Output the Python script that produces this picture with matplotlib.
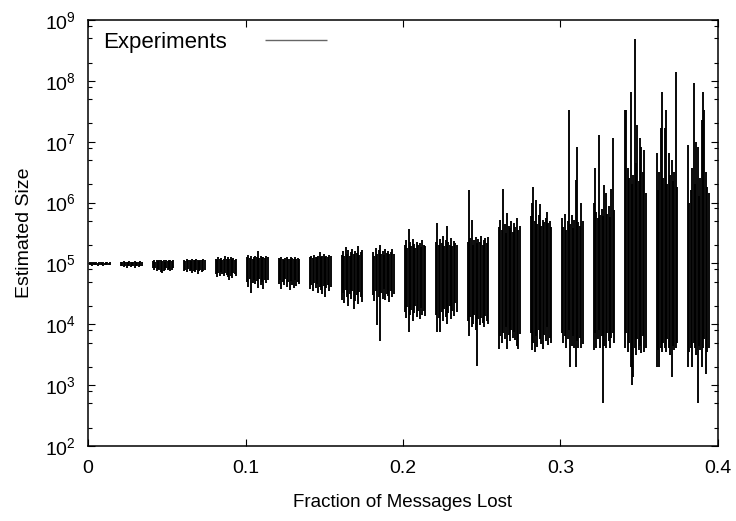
import numpy as np
import matplotlib
matplotlib.use('Agg')
import matplotlib.pyplot as plt
from matplotlib.ticker import LogLocator, NullFormatter

plt.rcParams['font.family'] = ['Liberation Sans', 'DejaVu Sans']
plt.rcParams['mathtext.fontset'] = 'custom'
plt.rcParams['mathtext.rm'] = 'Liberation Sans'

# nominal loss fraction of each experiment group
groups = [0.00, 0.02, 0.04, 0.06, 0.08, 0.10, 0.12, 0.14, 0.16, 0.18,
          0.20, 0.22, 0.24, 0.26, 0.28, 0.30, 0.32, 0.34, 0.36, 0.38]

# log10 of the upper end of each experiment's error bar, one list per group
hi_exp = [
    [5.02, 5.01, 5.02, 5.02, 5.01, 5.02, 5.01, 5.02, 5.02, 5.01, 5.02, 5.01, 5.02, 5.02, 5.01, 5.02],
    [5.03, 5.02, 5.04, 5.03, 5.02, 5.03, 5.04, 5.03, 5.02, 5.03, 5.04, 5.03, 5.02, 5.03, 5.04, 5.03],
    [5.04, 5.05, 5.03, 5.05, 5.04, 5.06, 5.05, 5.04, 5.05, 5.03, 5.05, 5.04, 5.05, 5.06, 5.04, 5.05],
    [5.06, 5.04, 5.07, 5.05, 5.06, 5.04, 5.07, 5.06, 5.05, 5.07, 5.06, 5.04, 5.06, 5.05, 5.07, 5.05],
    [5.08, 5.06, 5.10, 5.07, 5.09, 5.06, 5.08, 5.12, 5.07, 5.10, 5.08, 5.11, 5.07, 5.09, 5.06, 5.08],
    [5.10, 5.14, 5.09, 5.12, 5.08, 5.11, 5.13, 5.10, 5.20, 5.09, 5.12, 5.10, 5.11, 5.09, 5.12, 5.10],
    [5.09, 5.07, 5.10, 5.08, 5.06, 5.09, 5.11, 5.08, 5.07, 5.10, 5.09, 5.08, 5.10, 5.07, 5.09, 5.08],
    [5.10, 5.12, 5.09, 5.14, 5.11, 5.10, 5.13, 5.19, 5.11, 5.12, 5.15, 5.10, 5.13, 5.11, 5.14, 5.12],
    [5.14, 5.20, 5.12, 5.27, 5.16, 5.22, 5.13, 5.18, 5.24, 5.15, 5.21, 5.17, 5.29, 5.14, 5.19, 5.22],
    [5.18, 5.13, 5.26, 5.16, 5.22, 5.30, 5.15, 5.20, 5.14, 5.24, 5.17, 5.21, 5.15, 5.19, 5.23, 5.16],
    [5.30, 5.38, 5.25, 5.56, 5.35, 5.28, 5.40, 5.32, 5.26, 5.36, 5.30, 5.34, 5.27, 5.38, 5.31, 5.29],
    [5.35, 5.66, 5.30, 5.40, 5.33, 5.45, 5.28, 5.38, 5.61, 5.36, 5.31, 5.42, 5.29, 5.37, 5.33, 5.30],
    [5.35, 6.21, 5.42, 5.72, 5.30, 5.38, 5.44, 5.33, 5.40, 5.36, 5.45, 5.31, 5.39, 5.42, 5.34, 5.44],
    [5.60, 5.72, 5.55, 6.22, 5.65, 5.50, 5.83, 5.62, 5.58, 5.70, 5.52, 5.66, 5.60, 5.75, 5.55, 5.62],
    [5.78, 6.00, 6.26, 5.70, 6.04, 5.65, 5.80, 5.98, 5.61, 5.72, 5.68, 5.75, 5.85, 5.66, 5.70, 5.60],
    [5.75, 5.60, 5.82, 5.55, 5.70, 7.52, 5.65, 5.80, 5.58, 5.72, 6.37, 6.92, 5.68, 5.62, 5.99, 5.70],
    [6.00, 6.56, 5.85, 5.75, 7.11, 5.80, 5.90, 5.78, 6.29, 6.15, 5.82, 5.95, 5.76, 6.23, 7.06, 5.88],
    [7.52, 7.52, 6.56, 6.40, 7.82, 6.30, 6.45, 8.68, 6.65, 7.27, 6.35, 7.06, 6.92, 6.50, 6.86, 6.15],
    [6.81, 6.20, 6.51, 7.22, 7.82, 6.40, 7.22, 7.52, 6.30, 6.81, 6.45, 6.70, 6.35, 6.50, 8.15, 6.25],
    [6.95, 6.00, 6.20, 6.56, 7.96, 6.30, 7.00, 6.92, 6.10, 6.40, 7.36, 7.82, 7.52, 6.51, 6.25, 6.15],
]

# log10 of the lower end of each error bar
lo_exp = [
    [4.97, 4.98, 4.96, 4.97, 4.98, 4.97, 4.96, 4.98, 4.97, 4.97, 4.96, 4.98, 4.97, 4.98, 4.97, 4.97],
    [4.95, 4.96, 4.94, 4.95, 4.93, 4.96, 4.95, 4.94, 4.96, 4.95, 4.93, 4.95, 4.96, 4.94, 4.95, 4.96],
    [4.92, 4.90, 4.93, 4.88, 4.91, 4.89, 4.86, 4.84, 4.87, 4.90, 4.92, 4.89, 4.91, 4.88, 4.90, 4.92],
    [4.88, 4.90, 4.86, 4.91, 4.87, 4.89, 4.85, 4.88, 4.86, 4.90, 4.83, 4.87, 4.89, 4.86, 4.88, 4.90],
    [4.82, 4.78, 4.85, 4.80, 4.86, 4.83, 4.79, 4.84, 4.81, 4.77, 4.73, 4.80, 4.76, 4.84, 4.82, 4.79],
    [4.70, 4.62, 4.75, 4.52, 4.68, 4.73, 4.66, 4.71, 4.60, 4.74, 4.64, 4.70, 4.58, 4.72, 4.67, 4.73],
    [4.66, 4.72, 4.58, 4.70, 4.64, 4.74, 4.62, 4.69, 4.56, 4.71, 4.65, 4.60, 4.73, 4.63, 4.70, 4.66],
    [4.58, 4.64, 4.55, 4.68, 4.60, 4.66, 4.52, 4.62, 4.57, 4.50, 4.63, 4.44, 4.59, 4.65, 4.54, 4.61],
    [4.40, 4.52, 4.35, 4.56, 4.45, 4.30, 4.50, 4.42, 4.55, 4.25, 4.38, 4.48, 4.33, 4.53, 4.44, 4.36],
    [4.48, 4.38, 4.55, 3.99, 4.45, 3.72, 4.52, 4.42, 4.58, 4.40, 4.50, 4.46, 4.37, 4.54, 4.44, 4.49],
    [4.20, 4.10, 4.28, 3.87, 4.15, 4.24, 4.05, 4.18, 4.30, 4.12, 4.22, 4.08, 4.26, 4.16, 4.21, 4.14],
    [4.15, 3.87, 4.10, 3.87, 4.20, 4.05, 4.25, 4.12, 4.00, 4.18, 4.30, 4.08, 4.22, 4.14, 4.35, 4.20],
    [4.05, 3.80, 4.12, 3.95, 4.00, 4.15, 3.90, 3.31, 4.08, 3.98, 4.10, 4.02, 3.96, 4.13, 4.06, 4.00],
    [3.59, 3.80, 3.70, 3.85, 3.75, 3.95, 3.59, 3.82, 3.72, 3.90, 3.78, 3.88, 3.74, 3.65, 3.59, 3.84],
    [3.85, 3.57, 3.70, 3.54, 3.80, 3.62, 3.90, 3.75, 3.68, 3.60, 3.82, 3.72, 3.95, 3.66, 3.78, 3.70],
    [3.85, 3.70, 3.80, 3.61, 3.75, 3.90, 3.30, 3.65, 3.80, 3.61, 3.30, 3.72, 3.61, 3.78, 3.61, 3.68],
    [3.58, 3.85, 3.61, 3.75, 3.90, 3.61, 3.80, 2.70, 3.65, 3.61, 3.85, 3.72, 3.61, 3.78, 3.85, 3.70],
    [3.61, 3.85, 3.55, 3.70, 3.30, 3.00, 3.14, 3.61, 3.50, 3.75, 3.58, 3.65, 3.52, 3.80, 3.55, 3.61],
    [3.30, 3.58, 3.30, 3.61, 3.55, 3.70, 3.61, 3.55, 3.75, 3.61, 3.50, 3.13, 3.65, 3.58, 3.61, 3.70],
    [3.30, 3.55, 3.61, 3.30, 3.70, 3.61, 3.50, 2.70, 3.65, 3.58, 3.30, 3.61, 3.75, 3.19, 3.55, 3.61],
]

xticks = [0, 0.1, 0.2, 0.3, 0.4]

fig = plt.figure(figsize=(7.36, 5.21), dpi=100)
ax = fig.add_axes([0.1196, 0.144, 0.8559, 0.8176])

# runs of one group are spread over the measured loss range just above the nominal value
spread = 0.013
for g, hi, lo in zip(groups, hi_exp, lo_exp):
    xs = g + 0.001 + np.arange(len(hi)) * spread / (len(hi) - 1)
    ax.vlines(xs, 10 ** np.array(lo), 10 ** np.array(hi), color='black', lw=1.35,
              label='Experiments' if g == groups[0] else None)

ax.set_yscale('log')
ax.set_xlim(0, 0.4)
ax.set_ylim(1e2, 1e9)
ax.set_xticks(xticks)
ax.set_xticklabels(['0', '0.1', '0.2', '0.3', '0.4'])
ax.yaxis.set_major_locator(LogLocator(base=10, numticks=12))
ax.yaxis.set_minor_locator(LogLocator(base=10, subs=(2.0, 5.0, 8.0), numticks=12))
ax.yaxis.set_minor_formatter(NullFormatter())

ax.tick_params(which='both', direction='in', top=True, right=True, labelsize=14, width=0.8)
ax.tick_params(which='major', length=5)
ax.tick_params(axis='x', which='major', pad=10)
ax.tick_params(axis='y', which='major', pad=9)
ax.tick_params(which='minor', length=2.7)
for s in ax.spines.values():
    s.set_linewidth(1.1)

ax.set_xlabel('Fraction of Messages Lost', fontsize=13.5, labelpad=12)
ax.set_ylabel('Estimated Size', fontsize=14, labelpad=8)

leg = ax.legend(loc='upper left', bbox_to_anchor=(0.0, 1.009), frameon=False,
                markerfirst=False, fontsize=16, handlelength=2.8, handletextpad=1.7,
                borderaxespad=0.3)
for h in leg.legend_handles:
    h.set_color('0.4')
    h.set_linewidth(1.0)

fig.savefig('out.png', dpi=100)
